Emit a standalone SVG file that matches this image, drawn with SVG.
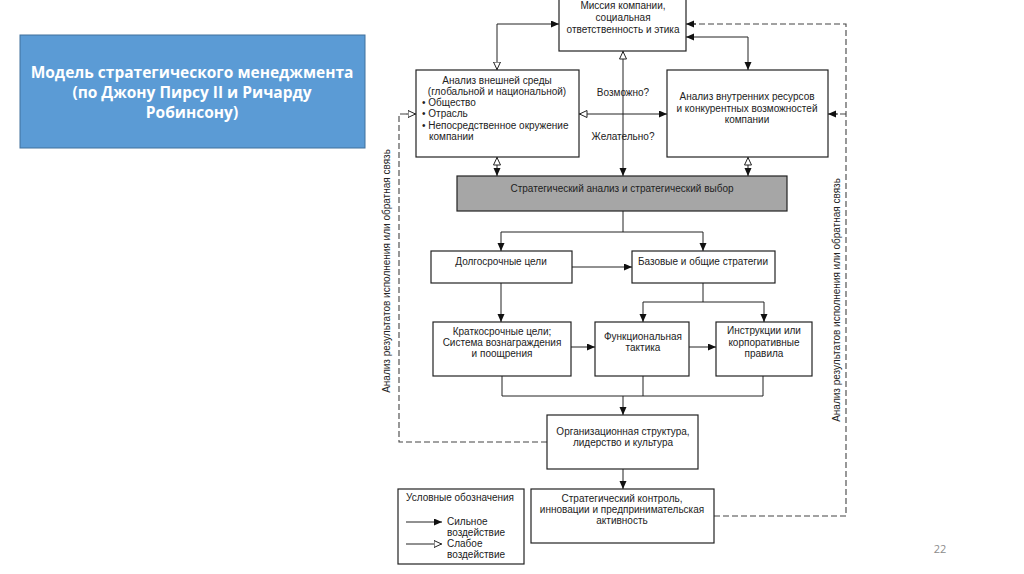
<svg xmlns="http://www.w3.org/2000/svg" width="1024" height="574" viewBox="0 0 1024 574">
<defs>
<style>
.bx{fill:#fff;stroke:#222;stroke-width:1.2}
.t{font-family:"Liberation Sans",Arial,sans-serif;font-size:10px;fill:#222}
.c{text-anchor:middle}
.ln{fill:none;stroke:#222;stroke-width:1}
.ds{fill:none;stroke:#444;stroke-width:1.1;stroke-dasharray:6,3}
.tt{font-family:"Open Sans","Liberation Sans",sans-serif;font-size:15.5px;font-weight:bold;fill:#fff;text-anchor:middle}
</style>
<marker id="f" markerUnits="userSpaceOnUse" markerWidth="10" markerHeight="8" refX="8" refY="3.5" orient="auto-start-reverse"><path d="M0,0 L8,3.5 L0,7 z" fill="#111"/></marker>
<marker id="h" markerUnits="userSpaceOnUse" markerWidth="10" markerHeight="9" refX="8.5" refY="4" orient="auto-start-reverse"><path d="M0.5,0.5 L8,4 L0.5,7.5 z" fill="#fff" stroke="#222" stroke-width="1"/></marker>
</defs>
<rect width="1024" height="574" fill="#fff"/>

<g id="title">
<rect x="20" y="35" width="345" height="113" fill="#5b9bd5" stroke="#41719c" stroke-width="1"/>
<text class="tt" x="192" y="78">Модель стратегического менеджмента</text>
<text class="tt" x="192" y="98">(по Джону Пирсу II и Ричарду</text>
<text class="tt" x="192" y="118">Робинсону)</text>
</g>

<g id="connectors">
<path class="ln" d="M497,70 L497,24 L559,24" marker-start="url(#h)" marker-end="url(#f)"/>
<path class="ln" d="M686,37 L748,37 L748,70" marker-start="url(#f)" marker-end="url(#f)"/>
<path class="ln" d="M623,51 L623,176" marker-start="url(#h)" marker-end="url(#f)"/>
<path class="ln" d="M579,114 L667,114" marker-start="url(#h)" marker-end="url(#f)"/>
<path class="ln" d="M497,157 L497,176" marker-start="url(#h)" marker-end="url(#f)"/>
<path class="ln" d="M748,157 L748,176" marker-start="url(#h)" marker-end="url(#f)"/>
<path class="ds" d="M547,442 L399,442 L399,114 L408,114"/>
<path class="ln" d="M406,114 L416,114" marker-end="url(#h)"/>
<path class="ds" d="M714,516 L846,516 L846,24 L694,24"/>
<path class="ln" d="M696,24 L686,24" marker-end="url(#f)"/>
<path class="ds" d="M846,114 L836,114"/>
<path class="ln" d="M838,114 L828,114" marker-end="url(#f)"/>
<path class="ln" d="M623,211 L623,232"/>
<path class="ln" d="M501,251 L501,232 L703,232 L703,251" marker-start="url(#f)" marker-end="url(#f)"/>
<path class="ln" d="M572,267 L632,267" marker-end="url(#f)"/>
<path class="ln" d="M501,283 L501,322" marker-end="url(#f)"/>
<path class="ln" d="M703,283 L703,302"/>
<path class="ln" d="M643,322 L643,302 L764,302 L764,322" marker-start="url(#f)" marker-end="url(#f)"/>
<path class="ln" d="M571,347 L595,347" marker-end="url(#f)"/>
<path class="ln" d="M689,347 L716,347" marker-end="url(#f)"/>
<path class="ln" d="M502,376 L502,396 L763,396 L763,376 M643,376 L643,396"/>
<path class="ln" d="M623,396 L623,415" marker-end="url(#f)"/>
<path class="ln" d="M623,469 L623,489" marker-end="url(#f)"/>
<text class="t c" x="623" y="96">Возможно?</text>
<text class="t c" x="623" y="140">Желательно?</text>
<text class="t c" transform="translate(390,271) rotate(-90)">Анализ результатов исполнения или обратная связь</text>
<text class="t c" transform="translate(840,300) rotate(-90)">Анализ результатов исполнения или обратная связь</text>
</g>

<g id="mission">
<rect class="bx" x="559" y="-2" width="127" height="53"/>
<text class="t c" x="623" y="9">Миссия компании,</text>
<text class="t c" x="623" y="21">социальная</text>
<text class="t c" x="623" y="33">ответственность и этика</text>
</g>

<g id="external">
<rect class="bx" x="416" y="70" width="163" height="87"/>
<text class="t c" x="497" y="84">Анализ внешней среды</text>
<text class="t c" x="497" y="95">(глобальной и национальной)</text>
<text class="t" x="422" y="106">• Общество</text>
<text class="t" x="422" y="117">• Отрасль</text>
<text class="t" x="422" y="129">• Непосредственное окружение</text>
<text class="t" x="429" y="140">компании</text>
</g>

<g id="internal">
<rect class="bx" x="667" y="70" width="161" height="87"/>
<text class="t c" x="747" y="100">Анализ внутренних ресурсов</text>
<text class="t c" x="747" y="112">и конкурентных возможностей</text>
<text class="t c" x="747" y="123">компании</text>
</g>

<g id="choice">
<rect x="457" y="176" width="330" height="35" fill="#a6a6a6" stroke="#222" stroke-width="1.2"/>
<text class="t c" x="622" y="192">Стратегический анализ и стратегический выбор</text>
</g>

<g id="longterm">
<rect class="bx" x="431" y="251" width="141" height="32"/>
<text class="t c" x="501" y="265">Долгосрочные цели</text>
</g>

<g id="basic">
<rect class="bx" x="632" y="251" width="143" height="32"/>
<text class="t c" x="703" y="265">Базовые и общие стратегии</text>
</g>

<g id="shortterm">
<rect class="bx" x="433" y="322" width="138" height="54"/>
<text class="t c" x="502" y="335">Краткосрочные цели;</text>
<text class="t c" x="502" y="346">Система вознаграждения</text>
<text class="t c" x="502" y="357">и поощрения</text>
</g>

<g id="functional">
<rect class="bx" x="595" y="322" width="94" height="54"/>
<text class="t c" x="643" y="340">Функциональная</text>
<text class="t c" x="643" y="351">тактика</text>
</g>

<g id="rules">
<rect class="bx" x="716" y="322" width="96" height="54"/>
<text class="t c" x="764" y="334">Инструкции или</text>
<text class="t c" x="764" y="346">корпоративные</text>
<text class="t c" x="764" y="357">правила</text>
</g>

<g id="org">
<rect class="bx" x="547" y="415" width="151" height="54"/>
<text class="t c" x="623" y="435">Организационная структура,</text>
<text class="t c" x="623" y="446">лидерство и культура</text>
</g>

<g id="control">
<rect class="bx" x="531" y="489" width="183" height="54"/>
<text class="t c" x="622" y="502">Стратегический контроль,</text>
<text class="t c" x="622" y="513">инновации и предпринимательская</text>
<text class="t c" x="622" y="524">активность</text>
</g>

<g id="legend">
<rect class="bx" x="398" y="489" width="126" height="75"/>
<text class="t" x="406" y="501">Условные обозначения</text>
<path class="ln" d="M406,522 L442,522" stroke-width="1.3" marker-end="url(#f)"/>
<text class="t" x="447" y="525">Сильное</text>
<text class="t" x="447" y="536">воздействие</text>
<path class="ln" d="M406,544 L442,544" stroke-width="0.6" marker-end="url(#h)"/>
<text class="t" x="447" y="547">Слабое</text>
<text class="t" x="447" y="558">воздействие</text>
</g>

<text x="940" y="553" font-family="'Open Sans','Liberation Sans',sans-serif" font-size="11" fill="#8c8c8c" text-anchor="middle">22</text>
</svg>
